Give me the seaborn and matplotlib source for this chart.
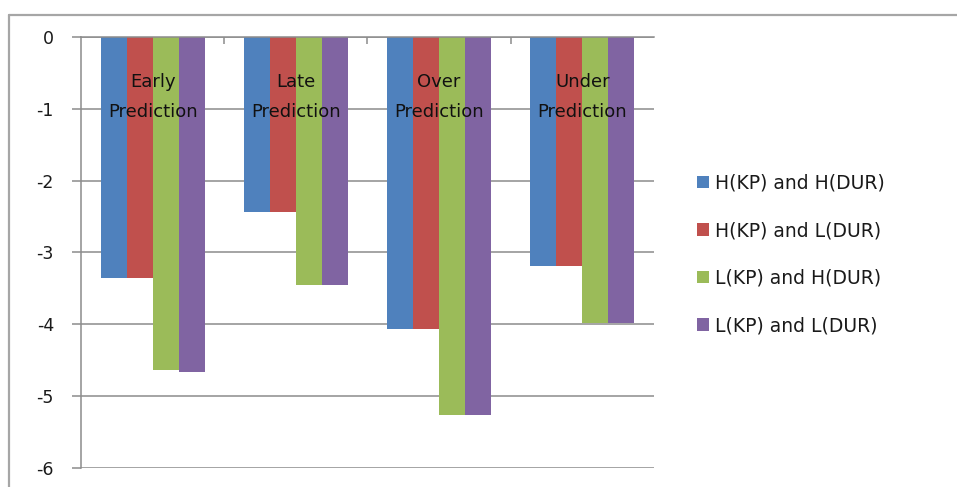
import matplotlib
matplotlib.use("Agg")
import matplotlib.pyplot as plt
from matplotlib.lines import Line2D
import seaborn as sns
import pandas as pd

# Category names (drawn inside the plot under the zero line)
categories = ["Early\nPrediction", "Late\nPrediction", "Over\nPrediction", "Under\nPrediction"]
series = ["H(KP) and H(DUR)", "H(KP) and L(DUR)", "L(KP) and H(DUR)", "L(KP) and L(DUR)"]

hkp_hdur = [-3.35, -2.43, -4.06, -3.19]
hkp_ldur = [-3.35, -2.43, -4.06, -3.19]
lkp_hdur = [-4.64, -3.46, -5.26, -3.99]
lkp_ldur = [-4.67, -3.46, -5.26, -3.99]

colors = ["#4F81BD", "#C0504D", "#9BBB59", "#8064A2"]

rows = []
for name, vals in zip(series, [hkp_hdur, hkp_ldur, lkp_hdur, lkp_ldur]):
    for cat, v in zip(categories, vals):
        rows.append({"category": cat, "series": name, "value": v})
df = pd.DataFrame(rows)

sns.set_theme(style="white")
plt.rcParams["font.family"] = ["DejaVu Sans"]
plt.rcParams["axes.unicode_minus"] = False

fig = plt.figure(figsize=(9.57, 4.87), dpi=100)
ax = fig.add_axes([0.0846, 0.0397, 0.5988, 0.8837])

sns.barplot(data=df, x="category", y="value", hue="series", order=categories,
            hue_order=series, palette=colors, saturation=1, width=0.727,
            ax=ax, legend=True)
for p in ax.patches:
    p.set_linewidth(0)

grid_c = "#8C8C8C"
ax.set_ylim(-6, 0)
ax.set_xlim(-0.5, len(categories) - 0.5)
ax.set_yticks(range(-6, 1))
ax.yaxis.grid(True, color=grid_c, linewidth=1.1)
ax.set_axisbelow(True)
ax.set_xlabel("")
ax.set_ylabel("")

for side in ["right", "bottom"]:
    ax.spines[side].set_visible(False)
for side in ["left", "top"]:
    ax.spines[side].set_visible(True)
    ax.spines[side].set_color(grid_c)
    ax.spines[side].set_linewidth(1.1)

ax.tick_params(axis="y", left=True, length=6.5, width=1.1, color=grid_c,
               pad=13, labelsize=12.5, labelcolor="#1a1a1a")

# Category axis sits on the zero line: boundary ticks pointing down, labels below
ax.set_xticks([i + 0.5 for i in range(len(categories) - 1)])
ax.set_xticklabels([])
ax.xaxis.tick_top()
ax.tick_params(axis="x", top=True, bottom=False, direction="in", length=5,
               width=1.1, color=grid_c)
for i, cat in enumerate(categories):
    ax.text(i, -0.83, cat, ha="center", va="center", fontsize=13,
            linespacing=1.85, color="#111111", zorder=5)

leg = ax.legend(loc="center left", bbox_to_anchor=(0.718, 0.4774),
                bbox_transform=fig.transFigure, frameon=False, fontsize=13.5,
                handlelength=0.66, handleheight=0.66, handletextpad=0.35,
                labelspacing=1.52, borderpad=0)
for t in leg.get_texts():
    t.set_color("#1a1a1a")

# Outer chart-area border
frame_c = "#A6A6A6"
fig.add_artist(Line2D([0.0089, 1.0], [0.970, 0.970], transform=fig.transFigure,
                      color=frame_c, linewidth=1.6))
fig.add_artist(Line2D([0.0089, 0.0089], [0.0, 0.970], transform=fig.transFigure,
                      color=frame_c, linewidth=1.6))

fig.savefig("out.png", dpi=100)
